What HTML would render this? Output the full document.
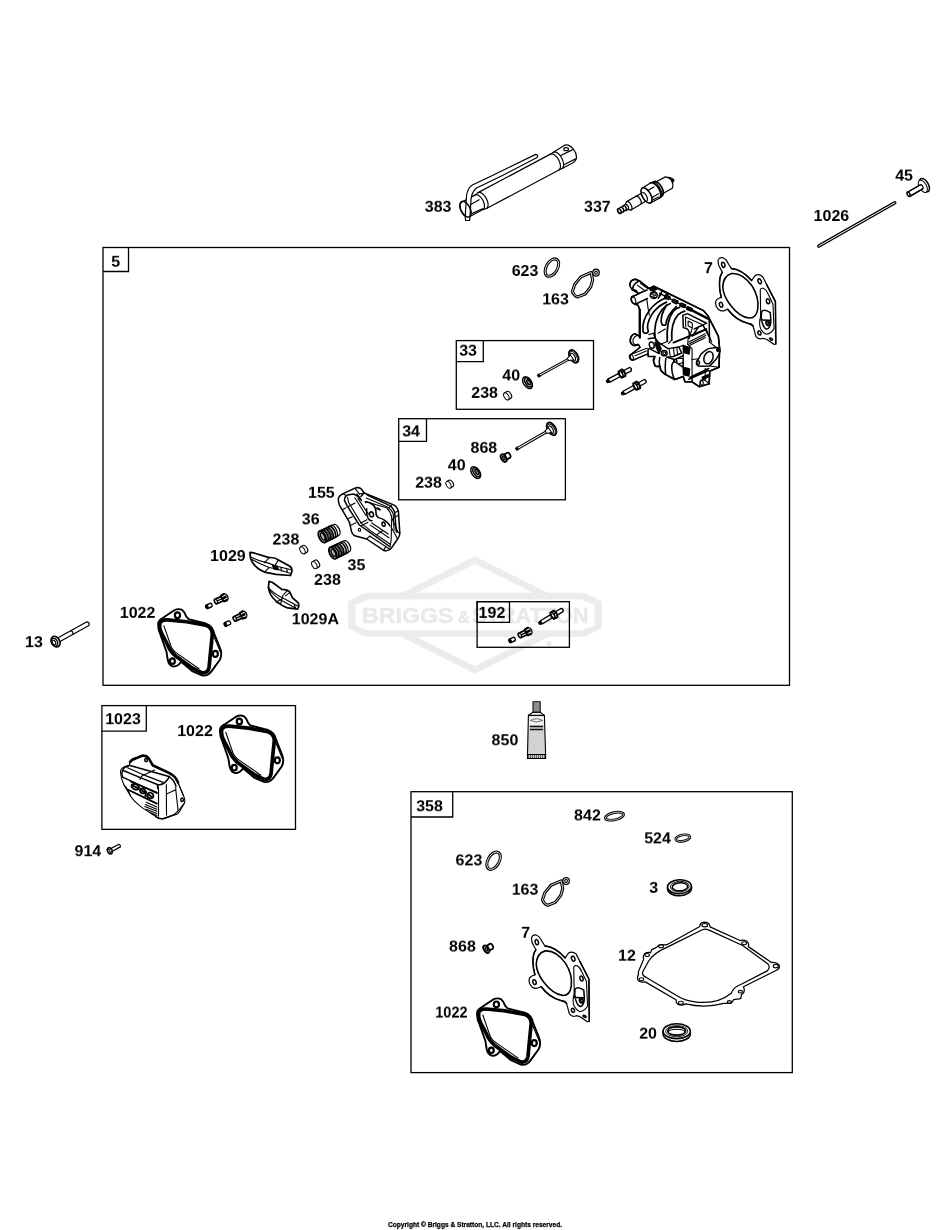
<!DOCTYPE html>
<html>
<head>
<meta charset="utf-8">
<title>Cylinder Head Parts Diagram</title>
<style>
html,body{margin:0;padding:0;background:#fff;}
#page{position:relative;width:950px;height:1230px;overflow:hidden;background:#fff;}
body{width:950px;height:1230px;font-family:"Liberation Sans",sans-serif;}
svg{display:block;}
.fr{fill:none;stroke:#000;stroke-width:1.3;}
.lb{font-family:"Liberation Sans",sans-serif;font-weight:bold;font-size:15.7px;fill:#000;}
.p{fill:none;stroke:#000;stroke-width:1.2;stroke-linecap:round;stroke-linejoin:round;}
.pw{fill:#fff;stroke:#000;stroke-width:1.2;stroke-linecap:round;stroke-linejoin:round;}
.pk{fill:#000;stroke:#000;stroke-width:1;stroke-linejoin:round;}
.t{fill:none;stroke:#000;stroke-width:0.7;stroke-linecap:round;stroke-linejoin:round;}
.h{fill:none;stroke:#000;stroke-width:1.1;vector-effect:non-scaling-stroke;stroke-linecap:round;stroke-linejoin:round;}
.hb{fill:none;stroke:#000;stroke-width:1.5;vector-effect:non-scaling-stroke;stroke-linecap:round;stroke-linejoin:round;}
.hw{fill:#fff;stroke:#000;stroke-width:1.1;vector-effect:non-scaling-stroke;stroke-linejoin:round;}
.hwb{fill:#fff;stroke:#000;stroke-width:1.5;vector-effect:non-scaling-stroke;stroke-linejoin:round;}
.hk{fill:#000;stroke:#000;stroke-width:1;vector-effect:non-scaling-stroke;stroke-linejoin:round;}
</style>
</head>
<body>
<div id="page">
<svg width="950" height="1230" viewBox="0 0 950 1230">
<rect x="0" y="0" width="950" height="1230" fill="#fff"/>

<!-- WATERMARK -->
<g id="watermark">
<path d="M475,560.1 L585,615 L475,669.9 L365,615Z" fill="none" stroke="#ececec" stroke-width="6.8" stroke-linejoin="miter"/>
<path d="M348.1,601.6 L365.1,592.7 L584.9,592.7 L601.9,601.6 L601.9,628.1 L584.2,636.9 L365.8,636.9 L348.1,628.1Z" fill="#ececec"/>
<path d="M355.5,605.3 L368,599.4 L582,599.4 L594.5,605.3 L594.5,625.2 L582,630.3 L368,630.3 L355.5,625.2Z" fill="#fff"/>
<g style="font-family:'Liberation Sans',sans-serif;font-weight:bold;fill:#e9e9e9;stroke:#e9e9e9;stroke-width:0.5px;will-change:transform">
<text x="362.1" y="623" font-size="21.6" textLength="91.4" lengthAdjust="spacingAndGlyphs">BRIGGS</text>
<text x="457.9" y="623" font-size="16.4" textLength="11.8" lengthAdjust="spacingAndGlyphs">&amp;</text>
<text x="472" y="623" font-size="21.6" textLength="116.5" lengthAdjust="spacingAndGlyphs">STRATTON</text>
<text x="547" y="646" font-size="6" fill="#ececec">®</text>
</g>
</g>

<!-- FRAMES -->
<g id="frames">
<rect class="fr" x="103" y="247.5" width="686.5" height="437.8"/>
<path class="fr" d="M103 271.5H128.5V247.5"/>
<rect class="fr" x="456.3" y="340.6" width="137.2" height="68.7"/>
<path class="fr" d="M456.3 361.6H483.3V340.6"/>
<rect class="fr" x="398.7" y="418.7" width="166.7" height="81.1"/>
<path class="fr" d="M398.7 441.3H426.5V418.7"/>
<rect class="fr" x="477.1" y="601.7" width="92.3" height="45.6"/>
<path class="fr" d="M477.1 601.7V622.4H509.5V601.7Z" fill="#fff"/>
<rect class="fr" x="101.9" y="705.6" width="193.6" height="123.75"/>
<path class="fr" d="M101.9 731.2H146.3V705.6"/>
<rect class="fr" x="411" y="791.7" width="381.3" height="280.9"/>
<path class="fr" d="M411 817H452.7V791.7"/>
</g>

<!-- LABELS -->

<!-- PARTS -->
<g id="parts">
<!--P1-->
<!-- 383 tube wrench -->
<g id="p383">
<g transform="translate(465.5,209.5) rotate(-28)">
<path class="pw" d="M0,-8.3 L15.5,-8.3 L19,-9 L101,-9 L104.5,-9.3 L118,-10.2 Q122,-9.5 123.6,-3 Q124.6,2 122.6,6 L121,7.8 L118,9.2 L104.5,9.2 L101,9 L19,9 L15.5,8.3 L0,8.3 A4.5,8.3 0 0 1 0,-8.3Z"/>
<path class="p" d="M15.5,-8.3 A4.2,8.3 0 0 1 15.5,8.3 M19,-9 A4.6,9 0 0 1 19,9"/>
<path class="p" d="M101,-9 A4.6,9 0 0 1 101,9 M104.5,-9.3 A4.6,9.25 0 0 1 104.5,9.2"/>
<path class="p" d="M109.4,-2.9 L122.3,-2.5 M107.8,6.6 L121,7 M7,-2 L16.7,-2.2 M4.3,6.7 L15.3,7.2"/>
</g>
<ellipse cx="566.1" cy="149.2" rx="2.4" ry="1.5" fill="#fff" stroke="#000" stroke-width="1.2"/>
<path class="pw" d="M535.7,154.4 L492.9,175.3 L472.4,185 Q467.9,187.5 466.6,195 L465.5,211.8 L465.3,217.1 L465.6,220.4 L469.5,220.5 L470,217.1 L470.8,202.4 Q471,192.5 476.1,188.2 L502.4,175.5 L537.1,157.5 Q538.6,155 535.7,154.4Z"/>
<ellipse cx="465.5" cy="209.2" rx="4.6" ry="8.6" transform="rotate(-28 465.5 209.2)" fill="none" stroke="#000" stroke-width="1.5"/>
</g>

<!-- 337 spark plug -->
<g id="p337" transform="translate(619.4,211.1) rotate(-30)">
<path class="pw" d="M0,-2.6 L3,-2.6 L3.5,-2.1 L5.5,-2.1 L6,-2.8 L8.4,-2.8 L11,-4.6 L29,-4.4 L31,-8.6 L41,-8.8 L44.5,-8.2 L46.5,-7 L57,-6.6 Q60.5,-4 60.4,0 Q60.5,4 57.2,6.7 L46.5,6.6 L44.5,8.2 L41,8.9 L31,8.4 L29,4.6 L10.6,4.9 L8.4,2.8 L6,2.8 L5.5,2.1 L3.5,2.1 L3,2.6 L0,2.6 A1.5,2.6 0 0 1 0,-2.6Z"/>
<ellipse cx="0" cy="0" rx="1.5" ry="2.6" class="p" style="stroke-width:1.5"/>
<path class="p" d="M3,-2.6 A1.4,2.6 0 0 1 3,2.6 M6,-2.8 A1.5,2.8 0 0 1 6,2.8" style="stroke-width:1.6"/>
<path class="p" d="M8.4,-2.8 A1.5,2.8 0 0 1 8.4,2.8 M11,-4.6 A2.4,4.7 0 0 1 10.6,4.9 M22,-4.5 A2.3,4.6 0 0 1 22,4.6"/>
<ellipse cx="31.3" cy="0" rx="4.2" ry="8.5" fill="#fff" stroke="#000" stroke-width="1.6"/>
<path class="p" d="M29.5,-4.6 A2.6,5 0 0 1 29.5,4.7" style="stroke-width:1.2"/>
<path class="p" d="M34.8,-3.6 L42,-3.6 M35,4.6 L42.5,4.6 M33.5,6.8 L41,7.4"/>
<path class="p" d="M41,-8.8 A4.4,8.85 0 0 1 41,8.9 M44.5,-8.2 A4.1,8.2 0 0 1 44.5,8.2" style="stroke-width:1.7"/>
<path class="p" d="M42.8,-8.4 A4.2,8.5 0 0 1 42.8,8.5" style="stroke-width:1.1"/>
<path class="pk" d="M58.8,-5 L60.8,-3.8 L63,-0.4 L62.4,1.2 L60.6,1.8 Q61,-2 58.8,-5Z" style="stroke-width:0.8"/>
</g>
<!--/P1-->
<!--P2-->
<!-- 1026 push rod -->
<g id="p1026">
<line x1="818.8" y1="246.1" x2="894.8" y2="202.8" stroke="#000" stroke-width="3.4" stroke-linecap="round"/>
<line x1="818.8" y1="246.1" x2="894.8" y2="202.8" stroke="#fff" stroke-width="1" stroke-linecap="round"/>
</g>
<!-- 45 tappet -->
<g id="p45" transform="translate(908.6,194.3) rotate(-30)">
<ellipse cx="18.3" cy="0" rx="3.9" ry="7.4" fill="#fff" stroke="#000" stroke-width="1.5"/>
<ellipse cx="16.3" cy="0.2" rx="3.6" ry="6.8" fill="#fff" stroke="#000" stroke-width="1"/>
<path class="pw" d="M0,-2.4 L15.5,-2.4 Q17,0 15.5,2.4 L0,2.4Z" stroke="none"/>
<path class="p" d="M0,-2.4 L14.6,-2.4 M0,2.4 L14.6,2.4" style="stroke-width:1.2"/>
<ellipse cx="0" cy="0" rx="1.3" ry="2.4" fill="#fff" stroke="#000" stroke-width="1.5"/>
</g>

<!-- 5 cylinder head -->
<g id="phead" transform="translate(622,272) scale(0.10947)">
<path class="hw" style="stroke-width:1.5" d="M72,120 Q70,70 125,66 L162,84 L245,150 L290,130 L740,350 Q790,400 800,430 L880,585 L892,700 L886,870 L802,905 L796,1022 L705,1048 L640,1003 L575,1003 L560,955 L482,982 L400,938 L355,900 L345,858 L305,862 L288,815 L300,772 L240,772 L235,748 L100,806 Q62,792 80,755 L165,688 L150,662 Q100,690 76,640 Q70,580 118,563 L160,588 L160,345 L145,302 L118,296 Q72,270 90,225 L150,200 L128,168 Q75,160 72,120Z"/>
<!-- top bosses -->
<path class="hb" d="M72,120 Q70,70 125,66 L162,84 L245,150"/>
<path class="hb" d="M152,84 Q98,108 96,162 M90,160 L150,196 L230,165 M95,226 L150,200 M215,170 L150,200 M126,292 L232,242"/>
<path class="h" d="M170,105 L232,150 M140,120 L200,165"/>
<ellipse class="h" cx="104" cy="258" rx="20" ry="34" transform="rotate(-20 104 258)"/>
<!-- bolt hole top -->
<path class="hk" d="M245,150 L290,132 L330,152 L300,168 L262,172Z"/>
<ellipse class="hwb" cx="290" cy="212" rx="32" ry="30"/>
<ellipse cx="296" cy="200" rx="16" ry="20" fill="#8a8a8a" stroke="#000" stroke-width="1" vector-effect="non-scaling-stroke"/>
<path class="hb" d="M268,225 L305,235 M262,205 Q270,180 300,180 M330,152 L420,200 L395,245 M340,215 L370,170 M330,240 L360,200"/>
<path class="hb" d="M398,208 L440,228 L425,252 L388,236Z M470,248 L512,266 L497,290 L458,272Z M540,284 L582,302 L567,324 L528,308Z M600,318 L642,336 L630,356 L592,340Z"/>
<path class="h" d="M405,225 L430,236 M478,265 L502,276 M548,300 L572,311"/>
<!-- left plate -->
<path class="hb" d="M163,345 L163,600" style="stroke-width:2.2"/>
<path class="h" d="M125,296 L148,303 L166,345 M226,248 L238,330 L250,395"/>
<path class="hb" d="M150,662 Q100,690 76,640 Q70,580 118,563 L160,588"/>
<path class="h" d="M135,580 Q95,600 100,640 Q110,670 140,660"/>
<path class="h" d="M165,688 L80,755 M86,752 L226,696 M120,765 L222,722 M235,748 L238,700"/>
<ellipse class="h" cx="86" cy="780" rx="17" ry="27" transform="rotate(-20 86 780)"/>
<path class="h" d="M240,700 L240,772 L300,772"/>
<!-- top rail -->
<path class="hb" d="M290,130 L740,350 Q790,400 800,430 L880,585 L892,700 L886,870"/>
<path class="hb" d="M345,195 L600,330"/>
<path class="hb" d="M600,330 L790,428" style="stroke-width:2.4"/>
<!-- fins -->
<path class="hb" style="stroke-width:1.7" d="M192,545 C183,480 205,410 255,344 C290,300 340,262 393,240 M241,545 C222,495 240,440 275,385 C300,345 350,300 407,275 M192,545 Q215,575 241,545"/>
<path class="hb" style="stroke-width:1.7" d="M303,607 C288,495 308,420 365,344 C390,312 415,298 441,288"/>
<path class="hb" style="stroke-width:1.7" d="M407,302 C365,372 345,434 365,479 Q385,492 400,482 C405,427 440,365 497,316"/>
<path class="hb" style="stroke-width:1.7" d="M414,635 C405,496 426,413 469,358 C490,335 505,328 525,323 M455,621 C447,510 468,441 511,392 C535,370 555,362 573,358"/>
<path class="h" d="M303,607 L330,700 M285,560 L245,572 M414,635 L350,660 M455,621 L425,655 M330,560 L395,520"/>
<!-- intake port -->
<path class="hb" d="M556,396 L560,508 L592,518 Q625,540 612,605 M556,396 L598,380 L772,468"/>
<path class="h" d="M580,412 L582,500 M580,412 L740,485 L772,468 M604,448 L642,468 L642,512 L604,492Z M642,512 L612,605"/>
<path class="hb" d="M740,485 L805,610 M700,500 L660,560 M660,520 L745,482 M640,585 L770,522 M796,430 L800,640"/>
<path class="hb" d="M470,645 L605,590 L770,522" style="stroke-width:1.8"/>
<path class="h" d="M610,640 L760,565 M615,655 L765,580 M620,670 L760,600"/>
<path class="h" d="M770,522 L820,640 M605,590 L600,660"/>
<!-- springs -->
<path class="hk" d="M556,668 L622,690 L614,752 L560,736Z M556,868 L620,884 L612,952 L560,940Z"/>
<path class="h" d="M600,660 L640,700 L640,960 M560,740 L556,868"/>
<!-- exhaust flange -->
<path class="hwb" d="M700,792 Q720,735 790,700 L858,690 Q900,690 895,725 Q880,790 800,858 L722,862 Q670,860 682,815Z"/>
<ellipse class="hb" cx="790" cy="783" rx="40" ry="58" transform="rotate(22 790 783)"/>
<ellipse class="hk" cx="878" cy="712" rx="15" ry="17"/>
<ellipse class="hb" cx="696" cy="828" rx="13" ry="15"/>
<path class="h" d="M800,640 L860,690 M640,800 L700,792 M886,870 L800,858"/>
<!-- lower right -->
<path class="hb" d="M640,960 L640,1003 L705,1048 L796,1022 L802,905 L886,870"/>
<path class="hb" d="M618,962 L792,882 M610,980 L790,900"/>
<path class="h" d="M705,1048 L722,985 L762,990 L796,1022 M760,880 L760,990"/>
<ellipse class="h" cx="728" cy="1012" rx="14" ry="22" transform="rotate(-15 728 1012)"/>
<path class="hk" d="M730,960 L790,935 L790,960 L740,985Z"/>
<!-- rocker bracket -->
<ellipse class="hb" cx="272" cy="668" rx="22" ry="30" transform="rotate(-20 272 668)"/>
<ellipse class="hb" cx="386" cy="742" rx="26" ry="24"/>
<ellipse class="h" cx="386" cy="742" rx="13" ry="12"/>
<path class="hb" d="M240,610 L300,600 L330,640 L420,700 L520,685 L545,740 L470,772 L410,778 M250,700 L340,745 M300,600 L290,560"/>
<path class="h" d="M430,700 L440,765 M470,692 L478,765 M500,688 L508,755 M520,685 L560,670"/>
<path class="hk" d="M300,640 L330,640 L360,700 L340,745 L315,700Z"/>
<!-- lower fins -->
<path class="hb" d="M300,772 Q280,800 288,815 Q295,850 305,862 Q335,870 345,858 M345,780 Q335,830 345,858 Q350,890 355,900 Q385,935 400,938 M400,790 Q390,880 400,938 L482,982 M455,850 Q450,930 482,982 L560,955 L575,1003 L640,1003"/>
<path class="hb" d="M410,778 L480,800 L560,765 M480,800 L455,850 M500,830 L556,868"/>
<ellipse class="hb" cx="488" cy="812" rx="14" ry="13"/>
<path class="h" d="M500,790 L560,790 L560,870 M520,840 L560,825"/>
</g>
<!--/P2-->
<!--P3-->
<!-- 7 head gasket -->
<g id="pg7" transform="translate(700,250) scale(0.094737)">
<path class="hw" d="M190,120 Q192,76 238,80 Q275,92 302,150 L332,196 Q440,205 545,322 L582,270 Q620,245 662,282 L702,362 L796,545 L800,992 L780,996 L702,942 L662,932 Q620,952 590,912 L560,802 Q545,778 500,772 Q380,742 292,626 L250,642 Q200,652 170,592 Q150,530 200,510 L226,500 Q196,400 210,300 Q215,262 236,236 L215,196 Q190,160 190,120Z" style="stroke-width:1.2"/>
<path class="hb" d="M332,196 Q440,205 545,322 M702,362 L796,545 L800,992 M236,236 Q215,262 210,300 Q196,400 226,500 M292,626 Q380,742 500,772 Q545,778 560,802"/>
<path class="hb" d="M240,390 Q245,272 335,248 Q450,240 550,380 Q625,500 610,620 Q595,722 520,718 Q420,710 320,580 Q245,480 240,390Z" style="stroke-width:1.6"/>
<path class="h" d="M636,420 Q640,400 672,405 Q702,420 722,470 L770,572 L782,830 Q752,882 700,890 Q662,872 640,830 Q618,780 640,700 L640,640Z"/>
<path class="hb" d="M650,650 Q680,618 742,662 L748,742 M640,740 L748,742 M650,650 Q640,700 655,760 Q680,850 720,830 Q750,800 748,742"/>
<ellipse class="hb" cx="716" cy="772" rx="20" ry="26" transform="rotate(-15 716 772)"/>
<ellipse class="h" cx="716" cy="772" rx="9" ry="13" transform="rotate(-15 716 772)"/>
<ellipse class="hb" cx="246" cy="156" rx="17" ry="28" transform="rotate(-15 246 156)"/>
<ellipse class="hb" cx="630" cy="330" rx="17" ry="28" transform="rotate(-20 630 330)"/>
<ellipse class="hb" cx="222" cy="578" rx="17" ry="26" transform="rotate(-15 222 578)"/>
<ellipse class="hb" cx="718" cy="540" rx="17" ry="27" transform="rotate(-12 718 540)"/>
<ellipse class="hb" cx="628" cy="876" rx="16" ry="22" transform="rotate(-20 628 876)"/>
<ellipse class="hb" cx="750" cy="940" rx="18" ry="9" transform="rotate(32 750 940)"/>
</g>
<!--/P3-->
<!--P4-->
<defs>
<g id="stud">
<path class="pk" d="M0.7,-1.3 L3.4,-1.8 L3.4,1.8 L0.7,1.3 Q-0.3,0 0.7,-1.3Z" style="stroke-width:0.9"/>
<path class="pw" d="M3,-1.8 L15.5,-1.8 L15.5,1.8 L3,1.8Z" style="stroke-width:1.3"/>
<path class="pw" d="M20,-1.9 L27.2,-1.9 Q29,0 27.2,1.9 L20,1.9Z" style="stroke-width:1.3"/>
<path class="pw" d="M15.6,-3.5 L19.6,-3.7 Q21.6,0 19.6,3.7 L15.6,3.5 Q13.8,0 15.6,-3.5Z" style="stroke-width:2"/>
<path class="p" d="M17.2,-3.5 Q19,0 17.2,3.5 M17.6,-1 L20.3,-1" style="stroke-width:1.5"/>
</g>
<g id="valve">
<path class="pk" style="stroke-width:0.8" d="M0,-1.3 L2.4,-1.5 L2.4,1.5 L0,1.3Z"/>
<path d="M2.4,0 L37,0" stroke="#000" stroke-width="3" fill="none"/>
<path d="M2.6,0 L37,0" stroke="#fff" stroke-width="0.9" fill="none"/>
<ellipse cx="41" cy="0" rx="4.1" ry="7" fill="#fff" stroke="#000" stroke-width="1.7"/>
<ellipse cx="40.4" cy="0.2" rx="3.3" ry="5.8" fill="#fff" stroke="#000" stroke-width="1"/>
<ellipse cx="39.8" cy="0.3" rx="2.2" ry="4.2" fill="#fff" stroke="#000" stroke-width="1.1"/>
<path class="pw" style="stroke-width:1" d="M34.5,-1.5 Q37.5,-1.8 38.6,-3.4 L39.4,3.6 Q37.5,2 34.5,1.5Z"/>
</g>
<g id="ret40">
<ellipse cx="0" cy="0" rx="3.9" ry="6.6" fill="#fff" stroke="#000" stroke-width="1.5"/>
<ellipse cx="0.9" cy="0.2" rx="2.8" ry="5" fill="#fff" stroke="#000" stroke-width="1.5"/>
<ellipse cx="1.3" cy="0.3" rx="1.5" ry="3" fill="#777" stroke="#000" stroke-width="1.3"/>
</g>
<g id="cap238">
<path class="pw" d="M-1.3,-3.9 L1.6,-3.9 A2.2,3.9 0 0 1 1.6,3.9 L-1.3,3.9Z"/>
<ellipse cx="-1.3" cy="0" rx="2.2" ry="3.9" fill="#fff" stroke="#000" stroke-width="1"/>
</g>
</defs>
<!-- 623 o-ring -->
<g id="p623" transform="translate(551.9,267.6) rotate(30)">
<ellipse cx="0" cy="0" rx="5.6" ry="9.5" fill="none" stroke="#000" stroke-width="3"/>
<ellipse cx="0" cy="0" rx="5.6" ry="9.5" fill="none" stroke="#fff" stroke-width="0.8"/>
</g>
<!-- 163 gasket -->
<g id="p163" transform="translate(505,250) scale(0.115789)">
<g fill="none" stroke="#000" stroke-linejoin="round">
<path vector-effect="non-scaling-stroke" stroke-width="3.1" d="M744,194 L655,232 L602,298 L582,358 Q596,398 628,405 L692,380 L740,320 L757,260Z"/>
<ellipse vector-effect="non-scaling-stroke" stroke-width="3.1" cx="786" cy="196" rx="20" ry="22"/>
</g>
<g fill="none" stroke="#fff" stroke-linejoin="round">
<path vector-effect="non-scaling-stroke" stroke-width="0.85" d="M744,194 L655,232 L602,298 L582,358 Q596,398 628,405 L692,380 L740,320 L757,260Z"/>
<ellipse vector-effect="non-scaling-stroke" stroke-width="0.85" cx="786" cy="196" rx="20" ry="22"/>
</g>
</g>
<!-- studs -->
<use href="#stud" transform="translate(606.4,381.9) rotate(-28)"/>
<use href="#stud" transform="translate(620.4,394.8) rotate(-29) translate(1,0)"/>
<!-- box 33 -->
<use href="#valve" transform="translate(537.8,376.1) rotate(-28.8)"/>
<use href="#ret40" transform="translate(527.5,382.7) rotate(-35)"/>
<use href="#cap238" transform="translate(507.5,395.7) rotate(-30)"/>
<!-- box 34 -->
<use href="#valve" transform="translate(516,449.3) rotate(-29.85)"/>
<use href="#ret40" transform="translate(475.7,472.6) rotate(-35)"/>
<use href="#cap238" transform="translate(449.6,484.2) rotate(-30) scale(0.95)"/>
<!-- 868 seal in 34 -->
<g id="p868a" transform="translate(505.6,457) rotate(-30)">
<path class="pw" style="stroke-width:1.8" d="M-1.5,-2.8 L3.6,-2.8 A1.5,2.8 0 0 1 3.6,2.8 L-1.5,2.8Z"/>
<ellipse cx="-2.2" cy="0" rx="2.4" ry="4.2" fill="#fff" stroke="#000" stroke-width="1.9"/>
<ellipse cx="-2" cy="0" rx="1" ry="2.1" fill="#ccc" stroke="#000" stroke-width="1.3"/>
</g>
<!--/P4-->
<!--P5-->
<!-- 155 plate -->
<g id="p155" transform="translate(335,483) scale(0.073684)">
<path class="hwb" d="M45,225 Q45,170 110,145 L270,70 Q330,50 360,85 L395,135 L780,290 Q840,310 860,380 L880,680 Q880,720 850,760 L760,890 Q720,930 660,915 L430,760 L280,720 Q240,710 225,660 L195,530 L60,300 Q45,260 45,225Z"/>
<path class="h" d="M100,362 L150,335 M180,482 L236,458 M215,572 L285,540 M270,72 L335,150 M110,147 L150,170 M430,760 L470,720 M660,915 L690,860"/>
<path class="hb" d="M130,240 Q125,175 185,160 L255,150 Q310,170 345,220 M130,240 L165,310 L330,570 L460,660 L745,865"/>
<path class="h" d="M170,195 L185,265 L355,545 L485,650 L755,835 M175,322 L272,272"/>
<path class="h" d="M270,200 L420,440 M312,212 L452,422 M350,542 L432,500 M362,577 L447,532 M500,542 L722,692 M480,572 L732,742 M562,702 L642,652"/>
<path class="hb" d="M395,135 L352,182 M300,150 L360,240 M440,165 L730,300 Q790,330 810,400 L832,660"/>
<path class="hb" d="M415,265 Q440,240 520,300 Q556,330 556,390 Q550,440 590,470 Q640,480 680,510 Q722,540 746,582 M430,350 Q420,420 450,482 Q480,522 502,510"/>
<path class="h" d="M410,250 L700,335 Q760,400 770,470 L762,780 L745,865 M770,470 L852,662 M762,600 L850,760 M810,462 L860,440 M832,660 L880,680"/>
<ellipse class="hb" cx="495" cy="426" rx="27" ry="34" transform="rotate(-20 495 426)"/>
<ellipse class="hb" cx="660" cy="560" rx="21" ry="29" transform="rotate(-20 660 560)"/>
<ellipse class="h" cx="332" cy="636" rx="15" ry="21" transform="rotate(-20 332 636)"/>
<ellipse class="hk" cx="590" cy="352" rx="32" ry="9" transform="rotate(25 590 352)"/>
<path class="h" d="M425,205 L705,322 Q770,360 790,420 L802,640 M780,290 L742,328 M860,380 L812,402 M470,720 L745,900 M335,150 L395,135"/>
</g>

<defs>
<g id="spring">
<path class="pw" style="stroke-width:1.3" d="M0,-6.3 L11,-6.3 L15.6,-5.9 A3,5.9 0 0 1 15.6,5.9 L11,6.3 L0,6.3Z"/>
<path class="p" style="stroke-width:1.7" d="M2.2,-6.3 A3.2,6.3 0 0 1 2.2,6.3 M5,-6.3 A3.2,6.3 0 0 1 5,6.3 M7.8,-6.3 A3.2,6.3 0 0 1 7.8,6.3 M10.4,-6.3 A3.2,6.3 0 0 1 10.4,6.3"/>
<path class="p" style="stroke-width:0.8" d="M3.6,-6.3 A3.2,6.3 0 0 1 3.6,6.3 M6.4,-6.3 A3.2,6.3 0 0 1 6.4,6.3"/>
<path class="p" style="stroke-width:1.3" d="M12.6,-6.2 A3.1,6.2 0 0 1 12.6,6.2"/>
<ellipse cx="0" cy="0" rx="3.2" ry="6.3" fill="#fff" stroke="#000" stroke-width="1.9"/>
<ellipse cx="0.5" cy="0" rx="1.8" ry="4" fill="#bbb" stroke="#000" stroke-width="1.4"/>
</g>
</defs>
<use href="#spring" transform="translate(322.3,536.8) rotate(-26)"/>
<use href="#spring" transform="translate(332.9,553) rotate(-26)"/>
<use href="#cap238" transform="translate(303.6,549.7) rotate(-30)"/>
<use href="#cap238" transform="translate(315.5,564.4) rotate(-30)"/>
<!--/P5-->
<!--P6-->
<!-- rockers 1029 / 1029A -->
<g id="prock" transform="translate(195,535) scale(0.115789)">
<path class="hwb" style="stroke-width:1.7" d="M475,150 L510,155 L640,195 Q690,190 720,215 L820,270 Q842,285 836,320 L825,350 L700,340 L600,320 Q530,290 495,235 Q473,200 475,150Z"/>
<path class="h" d="M480,190 Q560,230 640,245 L690,265 L830,300 M492,212 Q560,252 640,280 L700,292 L828,332 M640,195 L600,240 M640,282 L600,320 M720,215 L690,265 M742,280 L746,312 M790,295 L800,322"/>
<path class="hk" d="M668,258 L712,270 L722,302 L680,296Z"/>
<path class="hwb" style="stroke-width:1.7" d="M640,400 L670,410 L750,470 Q800,470 820,495 L840,540 L890,585 Q906,610 886,640 L800,630 Q720,600 670,540 Q622,480 640,400Z"/>
<path class="h" d="M630,455 Q700,520 760,545 L890,615 M642,475 Q700,542 760,572 L862,628 M800,478 L760,520 L740,592 L700,580 M820,495 L782,526 M850,592 L870,632 M760,545 L700,580"/>
</g>
<defs>
<g id="hbolt">
<path d="M0,-2.8 L7.5,-2.8 L7.5,2.8 L0,2.8 A1.5,2.8 0 0 1 0,-2.8Z" fill="#000" stroke="#000" stroke-width="1"/>
<path d="M1.8,-1.1 L7.2,-1.1 M2,1.1 L7.2,1.1" stroke="#fff" stroke-width="0.9" fill="none"/>
<ellipse cx="0.3" cy="0" rx="0.8" ry="1.6" fill="#ddd"/>
<path d="M7,-3.6 L10.6,-4 Q13.3,-2.6 13.1,0.4 Q12.8,3.2 10.8,4 L7.2,3.7 Q5.8,0 7,-3.6Z" fill="#000" stroke="#000" stroke-width="1.2" stroke-linejoin="round"/>
<path d="M8.2,-1.6 L11.6,-2 M8.4,1.7 L11.4,1.8" stroke="#fff" stroke-width="0.9" fill="none" stroke-linecap="round"/>
<path d="M11.7,-2.2 Q12.4,0 11.6,2.4" stroke="#ccc" stroke-width="0.6" fill="none"/>
</g>
<g id="smallcyl">
<path class="pw" d="M-2.2,-1.9 L2.2,-1.9 A1.1,1.9 0 0 1 2.2,1.9 L-2.2,1.9 A1.1,1.9 0 0 1 -2.2,-1.9Z" style="stroke-width:1.4"/>
<ellipse cx="-2.2" cy="0" rx="1.2" ry="1.9" fill="#000" stroke="#000" stroke-width="1"/>
</g>
</defs>
<use href="#hbolt" transform="translate(215.8,601.6) rotate(-25)"/>
<use href="#hbolt" transform="translate(234.6,618.9) rotate(-25)"/>
<use href="#smallcyl" transform="translate(208.9,605.9) rotate(-24)"/>
<use href="#smallcyl" transform="translate(227.4,623.6) rotate(-24)"/>
<!--/P6-->
<!--P7-->
<defs>
<g id="g1022">
<path class="hw" style="stroke-width:1.9" d="M352,250 Q350,225 385,205 L470,148 Q500,133 527,146 Q547,160 557,193 L574,213 L700,245 Q750,262 762,320 L802,420 Q824,470 802,512 L744,592 Q715,632 672,624 L600,592 L520,524 Q500,557 465,560 Q430,554 422,510 L413,452 L370,330 Q350,290 352,250Z"/>
<path fill="none" stroke="#000" stroke-width="3.7" vector-effect="non-scaling-stroke" stroke-linejoin="round" d="M366,238 Q380,215 420,218 L560,232 L700,258 Q745,272 748,320 L738,420 L724,565 Q715,612 670,604 L600,570 L480,482 Q440,450 422,402 L380,322 Q355,272 366,238Z"/>
<path class="h" d="M394,262 L442,400 Q452,440 492,465 L650,575 M755,330 L805,450 M735,600 L800,512"/>
<ellipse class="hb" style="stroke-width:2.2" cx="493" cy="184" rx="19" ry="21" fill="#ddd"/>
<ellipse class="hb" style="stroke-width:2.2" cx="770" cy="467" rx="18" ry="22" fill="#ddd"/>
<ellipse class="hb" style="stroke-width:2.2" cx="456" cy="520" rx="18" ry="20" fill="#ddd"/>
</g>
</defs>
<use href="#g1022" transform="translate(110,590) scale(0.136842)"/>
<!--/P7-->
<!--P8-->
<!-- 13 bolt -->
<g id="p13" transform="translate(55.05,641.9) rotate(-29)">
<path class="pw" d="M2,-2.1 L37.6,-2.1 Q40,0 37.6,2.1 L2,2.1Z" style="stroke-width:1.2"/>
<path class="p" d="M19.5,-2.1 Q20.8,0 19.5,2.1"/>
<ellipse cx="0.6" cy="0" rx="4" ry="5.7" fill="#fff" stroke="#000" stroke-width="1.7"/>
<ellipse cx="-0.6" cy="0" rx="2.9" ry="4.1" fill="#fff" stroke="#000" stroke-width="1.4"/>
<ellipse cx="-1.2" cy="0" rx="1.6" ry="2.4" fill="#fff" stroke="#000" stroke-width="1.1"/>
</g>
<!-- box 192 -->
<use href="#stud" transform="translate(538.7,623.8) rotate(-30.4)"/>
<use href="#hbolt" transform="translate(519.7,635.4) rotate(-25)"/>
<use href="#smallcyl" transform="translate(512.1,639.9) rotate(-24)"/>
<!-- 1023 valve cover -->
<g id="p1023" transform="translate(100,735) scale(0.105263)">
<path class="hw" d="M195,345 Q200,310 250,295 L280,285 L285,255 Q300,230 340,220 L400,195 Q440,190 460,215 L500,285 L660,360 Q720,390 740,450 L790,570 Q815,620 800,650 L760,720 Q740,760 700,760 L600,795 Q560,800 530,775 L400,690 Q320,630 290,580 L230,480 Q195,400 195,345Z"/>
<path fill="none" stroke="#000" stroke-width="2.6" vector-effect="non-scaling-stroke" stroke-linejoin="round" stroke-linecap="round" d="M285,258 Q300,232 340,222 L400,197 Q440,192 460,217 L500,287 L660,362 Q720,392 742,452"/>
<ellipse class="hb" cx="438" cy="238" rx="13" ry="15"/>
<path class="hb" d="M215,335 Q225,305 270,298 M215,335 Q200,370 215,400 L540,552 M215,335 L400,412 L545,470 Q600,480 640,425 Q655,405 660,392 M285,290 L655,395 Q700,420 720,480"/>
<path class="h" d="M262,312 L432,386 L600,450 M380,422 Q385,395 405,384 L520,332 M545,470 Q555,480 556,520 L556,772 M630,470 L632,760 M556,520 Q540,500 545,470 M632,560 L720,520 L720,480 M720,520 L742,722"/>
<path class="hb" d="M292,442 L540,548 M272,522 L540,652" style="stroke-width:1.8"/>
<ellipse class="hb" cx="335" cy="492" rx="38" ry="24" transform="rotate(24 335 492)" style="stroke-width:1.8"/>
<ellipse class="hb" cx="405" cy="532" rx="26" ry="22" transform="rotate(24 405 532)" style="stroke-width:1.8"/>
<ellipse class="hb" cx="478" cy="575" rx="30" ry="26" transform="rotate(24 478 575)" style="stroke-width:1.8"/>
<path class="hb" d="M310,480 L360,505 M385,520 L425,545 M460,565 L495,590 M440,540 L430,580" style="stroke-width:1.8"/>
<path class="h" d="M440,640 L540,685 M430,660 L540,705 M425,680 L540,725 M440,705 L540,745 M470,735 L540,765"/>
<path class="h" d="M230,480 Q260,500 290,580 M740,450 L790,570 M700,760 L742,722 L800,650"/>
<ellipse class="hb" cx="780" cy="615" rx="13" ry="17"/>
<path class="hb" d="M530,775 Q560,800 600,795 L700,760"/>
</g>
<use href="#g1022" transform="translate(171.7,696.3) scale(0.1372)"/>
<!--/P8-->
<!--P9-->
<!-- 914 screw -->
<g id="p914" transform="translate(109.8,850.8) rotate(-28)">
<path class="pw" d="M1.5,-1.5 L11.2,-1.5 Q12.4,0 11.2,1.5 L1.5,1.5Z"/>
<ellipse cx="0" cy="0" rx="2.3" ry="3.4" fill="#fff" stroke="#000" stroke-width="1.5"/>
<path class="p" d="M-0.4,-2 L-0.4,2 M-0.4,-2 L1.6,-1.2 M-0.4,2 L1.6,1.4" style="stroke-width:1"/>
</g>
<!-- 850 tube -->
<g id="p850">
<path d="M528.4,715.4 L544.4,715.4 L545.6,754.6 L527.5,754.6Z" fill="#d2d2d2" stroke="#000" stroke-width="1.1"/>
<path d="M529.2,716.2 L543.7,716.2 L543.9,725 L529,725Z" fill="#f2f2f2"/>
<path d="M530.5,720.5 Q536.5,717 542.5,720.5 Q536.5,723.5 530.5,720.5Z" fill="none" stroke="#333" stroke-width="0.7"/>
<path d="M530,726.4 H543 M530,729.4 H543" stroke="#111" stroke-width="1.5" fill="none"/>
<path d="M533,701.8 H540.2 V712.3 H533Z" fill="#8e8e8e" stroke="#111" stroke-width="1.1"/>
<path d="M533,712.3 L528.4,715.4 M540.2,712.3 L544.4,715.4 M532.6,712.3 H540.6" stroke="#000" stroke-width="1.1" fill="none"/>
<path d="M527.5,754.6 H545.6 V758.4 H527.5Z" fill="#777" stroke="#000" stroke-width="1.1"/>
<path d="M529.5,755 V758 M531.5,755 V758 M533.5,755 V758 M535.5,755 V758 M537.5,755 V758 M539.5,755 V758 M541.5,755 V758 M543.5,755 V758" stroke="#fff" stroke-width="0.6"/>
</g>
<!-- kit 358 -->
<g transform="translate(614.5,816.2) rotate(-12)"><ellipse rx="9.3" ry="3.6" fill="none" stroke="#000" stroke-width="2.7"/><ellipse rx="9.3" ry="3.6" fill="none" stroke="#fff" stroke-width="0.7"/></g>
<g transform="translate(682.8,838.1) rotate(-10)"><ellipse rx="7.2" ry="3.1" fill="none" stroke="#000" stroke-width="2.6"/><ellipse rx="7.2" ry="3.1" fill="none" stroke="#fff" stroke-width="0.65"/></g>
<g transform="translate(493.6,860.7) rotate(30)"><ellipse rx="5.6" ry="9.5" fill="none" stroke="#000" stroke-width="3"/><ellipse rx="5.6" ry="9.5" fill="none" stroke="#fff" stroke-width="0.8"/></g>
<use href="#p163" transform="translate(-29.9,608.35)"/>
<g id="seal3" transform="translate(679.5,887.4) rotate(-3)">
<ellipse cx="0" cy="0.9" rx="12" ry="7.5" fill="#fff" stroke="#000" stroke-width="1.6"/>
<ellipse cx="0" cy="-0.7" rx="12" ry="6.9" fill="#fff" stroke="#000" stroke-width="1.6"/>
<ellipse cx="0.3" cy="-0.8" rx="9.4" ry="5.2" fill="none" stroke="#000" stroke-width="0.9"/>
<ellipse cx="0.5" cy="-0.6" rx="7.7" ry="4" fill="#fff" stroke="#000" stroke-width="1.5"/>
</g>
<use href="#p868a" transform="translate(-17.4,491.1)"/>
<use href="#pg7" transform="translate(-186.5,677.4)"/>
<use href="#g1022" transform="translate(428.9,979.2) scale(0.136842)"/>
<g id="seal20" transform="translate(676.7,1031.2)">
<path d="M-13.6,0 L-13.6,2.8 A13.6,7.4 0 0 0 13.6,2.8 L13.6,0Z" fill="#fff" stroke="#000" stroke-width="1.5"/>
<ellipse cx="0" cy="0" rx="13.6" ry="7.4" fill="#fff" stroke="#000" stroke-width="1.6"/>
<ellipse cx="0" cy="0" rx="11" ry="5.6" fill="none" stroke="#000" stroke-width="0.9"/>
<ellipse cx="0" cy="-0.2" rx="9" ry="4.1" fill="#fff" stroke="#000" stroke-width="1.6"/>
<path d="M-8.6,0.6 A9,3.6 0 0 1 8.6,0.6" fill="none" stroke="#000" stroke-width="1.1"/>
</g>
<!-- 12 gasket -->
<g id="p12" transform="translate(610,900) scale(0.189474)" stroke-width="1.25">
<path class="hw" style="stroke-width:1.25" d="M474,140 Q474,118 500,117 Q526,118 528,142 L686,214 Q706,208 722,218 Q736,228 730,246 L852,330 Q880,326 892,342 Q900,362 876,372 L704,458 Q712,470 706,488 L694,500 L690,520 L652,526 Q644,548 622,546 L600,546 Q500,572 400,548 Q376,560 358,550 Q346,540 350,528 L186,432 Q160,438 148,424 Q142,408 150,394 L150,378 L178,312 Q172,296 182,284 Q196,274 214,278 L220,262 L246,250 Q256,234 274,236 Q292,238 300,236Z"/>
<path class="hw" style="stroke-width:1.25" d="M490,156 Q505,150 520,158 L700,240 L832,336 Q850,355 830,374 L690,446 Q652,460 640,492 Q560,556 440,536 Q400,532 358,508 L194,410 Q168,400 172,380 L204,322 Q230,280 300,250Z"/>
<ellipse class="h" cx="500" cy="133" rx="15" ry="9"/>
<ellipse class="h" cx="708" cy="228" rx="13" ry="8"/>
<ellipse class="h" cx="875" cy="349" rx="13" ry="9"/>
<ellipse class="h" cx="688" cy="484" rx="11" ry="7"/>
<ellipse class="h" cx="630" cy="538" rx="11" ry="7"/>
<ellipse class="h" cx="374" cy="542" rx="13" ry="8"/>
<ellipse class="h" cx="166" cy="418" rx="12" ry="8"/>
<ellipse class="h" cx="196" cy="290" rx="12" ry="8"/>
<ellipse class="h" cx="270" cy="244" rx="13" ry="8"/>
</g>
<!--/P9-->
</g>

<g style="will-change:transform"><text x="388" y="1227.1" textLength="174" lengthAdjust="spacingAndGlyphs" style="font-family:'Liberation Sans',sans-serif;font-weight:bold;font-size:6.9px;fill:#000;stroke:#000;stroke-width:0.25px">Copyright © Briggs &amp; Stratton, LLC. All rights reserved.</text></g>
</svg>
<svg id="lbl" width="950" height="1341.82" viewBox="0 0 950 1341.82" style="position:absolute;left:0;top:0;will-change:transform;transform:scaleY(0.91667);transform-origin:0 0;">
<g id="labels" class="lb" transform="scale(1.02,1)">
<text x="416.47" y="231.05">383</text>
<text x="572.55" y="230.73">337</text>
<text x="797.65" y="240.65">1026</text>
<text x="877.64" y="196.91">45</text>
<text x="109.12" y="291.16">5</text>
<text x="501.67" y="301.31">623</text>
<text x="531.56" y="331.75">163</text>
<text x="690.19" y="297.93">7</text>
<text x="450.20" y="388.04">33</text>
<text x="492.46" y="414.65">40</text>
<text x="462.06" y="434.07">238</text>
<text x="394.31" y="476.18">34</text>
<text x="461.27" y="494.29">868</text>
<text x="439.02" y="512.51">40</text>
<text x="407.06" y="531.82">238</text>
<text x="301.96" y="543.16">155</text>
<text x="295.88" y="572.18">36</text>
<text x="267.26" y="594.22">238</text>
<text x="205.98" y="612.22">1029</text>
<text x="340.69" y="622.04">35</text>
<text x="307.94" y="638.18">238</text>
<text x="117.45" y="674.40">1022</text>
<text x="286.08" y="680.62">1029A</text>
<text x="469.21" y="674.29">192</text>
<text x="24.60" y="706.15">13</text>
<text x="103.13" y="789.60">1023</text>
<text x="173.72" y="803.35">1022</text>
<text x="481.96" y="813.49">850</text>
<text x="73.03" y="933.82">914</text>
<text x="408.04" y="885.05">358</text>
<text x="562.84" y="894.76">842</text>
<text x="631.57" y="920.51">524</text>
<text x="446.67" y="943.96">623</text>
<text x="501.67" y="976.15">163</text>
<text x="636.47" y="974.18">3</text>
<text x="440.30" y="1038.44">868</text>
<text x="511.08" y="1023.38">7</text>
<text x="605.88" y="1047.71">12</text>
<text transform="translate(426.71,1110.11) scale(0.91,1)">1022</text>
<text x="626.67" y="1132.91">20</text>
</g>
</svg>
</div>
</body>
</html>
